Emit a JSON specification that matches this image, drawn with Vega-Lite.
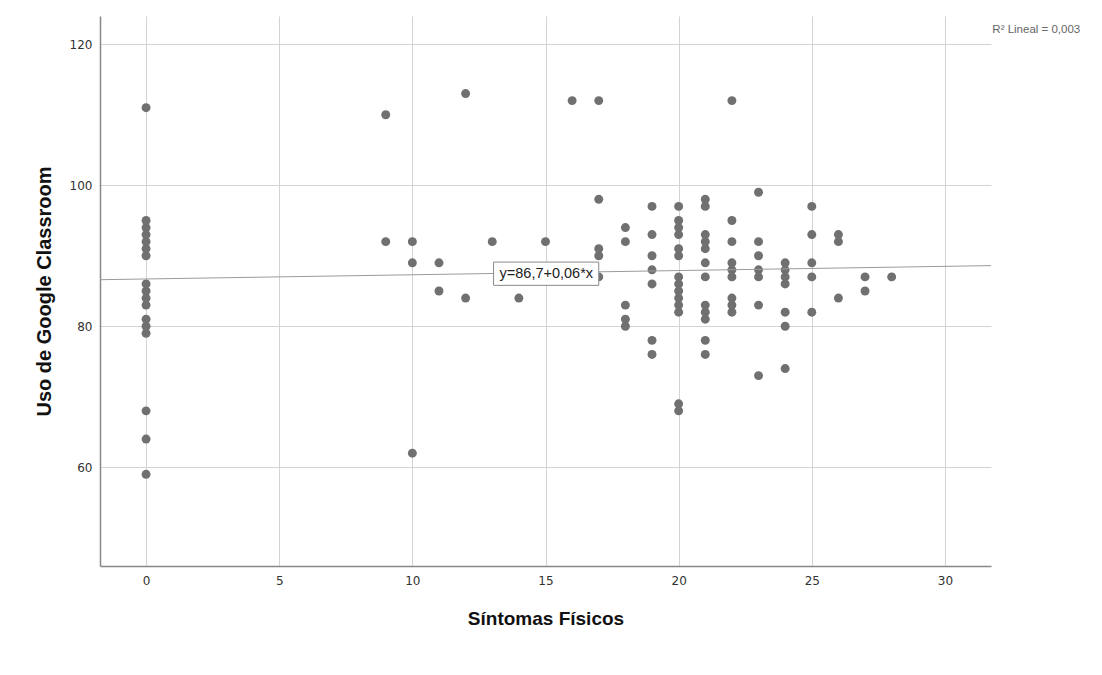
{
  "$schema": "https://vega.github.io/schema/vega-lite/v6.json",
  "autosize": {"type": "none"},
  "width": 891,
  "height": 550,
  "padding": {"left": 100, "top": 16, "right": 111, "bottom": 109},
  "background": "white",
  "config": {
    "view": {"stroke": null},
    "font": "Liberation Sans",
    "axis": {
      "domainColor": "#888888",
      "domainWidth": 1.5,
      "gridColor": "#d3d3d3",
      "gridWidth": 1,
      "ticks": false,
      "labelColor": "#333333",
      "labelFontSize": 12,
      "labelFont": "DejaVu Sans",
      "titleFont": "Liberation Sans",
      "titleFontWeight": "bold",
      "titleColor": "#111111"
    }
  },
  "datasets": {
    "points": [
      {"sintomas": 0, "uso": 111}, {"sintomas": 0, "uso": 95}, {"sintomas": 0, "uso": 94}, {"sintomas": 0, "uso": 93}, {"sintomas": 0, "uso": 92}, {"sintomas": 0, "uso": 91}, {"sintomas": 0, "uso": 90}, {"sintomas": 0, "uso": 86}, {"sintomas": 0, "uso": 85}, {"sintomas": 0, "uso": 84}, {"sintomas": 0, "uso": 83}, {"sintomas": 0, "uso": 81}, {"sintomas": 0, "uso": 80}, {"sintomas": 0, "uso": 79}, {"sintomas": 0, "uso": 68}, {"sintomas": 0, "uso": 64}, {"sintomas": 0, "uso": 59},
      {"sintomas": 9, "uso": 110}, {"sintomas": 9, "uso": 92},
      {"sintomas": 10, "uso": 92}, {"sintomas": 10, "uso": 89}, {"sintomas": 10, "uso": 62},
      {"sintomas": 11, "uso": 89}, {"sintomas": 11, "uso": 85},
      {"sintomas": 12, "uso": 113}, {"sintomas": 12, "uso": 84},
      {"sintomas": 13, "uso": 92},
      {"sintomas": 14, "uso": 84},
      {"sintomas": 15, "uso": 92},
      {"sintomas": 16, "uso": 112},
      {"sintomas": 17, "uso": 112}, {"sintomas": 17, "uso": 98}, {"sintomas": 17, "uso": 91}, {"sintomas": 17, "uso": 90}, {"sintomas": 17, "uso": 87},
      {"sintomas": 18, "uso": 94}, {"sintomas": 18, "uso": 92}, {"sintomas": 18, "uso": 83}, {"sintomas": 18, "uso": 81}, {"sintomas": 18, "uso": 80},
      {"sintomas": 19, "uso": 97}, {"sintomas": 19, "uso": 93}, {"sintomas": 19, "uso": 90}, {"sintomas": 19, "uso": 88}, {"sintomas": 19, "uso": 86}, {"sintomas": 19, "uso": 78}, {"sintomas": 19, "uso": 76},
      {"sintomas": 20, "uso": 97}, {"sintomas": 20, "uso": 95}, {"sintomas": 20, "uso": 94}, {"sintomas": 20, "uso": 93}, {"sintomas": 20, "uso": 91}, {"sintomas": 20, "uso": 90}, {"sintomas": 20, "uso": 87}, {"sintomas": 20, "uso": 86}, {"sintomas": 20, "uso": 85}, {"sintomas": 20, "uso": 84}, {"sintomas": 20, "uso": 83}, {"sintomas": 20, "uso": 82}, {"sintomas": 20, "uso": 69}, {"sintomas": 20, "uso": 68},
      {"sintomas": 21, "uso": 98}, {"sintomas": 21, "uso": 97}, {"sintomas": 21, "uso": 93}, {"sintomas": 21, "uso": 92}, {"sintomas": 21, "uso": 91}, {"sintomas": 21, "uso": 89}, {"sintomas": 21, "uso": 87}, {"sintomas": 21, "uso": 83}, {"sintomas": 21, "uso": 82}, {"sintomas": 21, "uso": 81}, {"sintomas": 21, "uso": 78}, {"sintomas": 21, "uso": 76},
      {"sintomas": 22, "uso": 112}, {"sintomas": 22, "uso": 95}, {"sintomas": 22, "uso": 92}, {"sintomas": 22, "uso": 89}, {"sintomas": 22, "uso": 88}, {"sintomas": 22, "uso": 87}, {"sintomas": 22, "uso": 84}, {"sintomas": 22, "uso": 83}, {"sintomas": 22, "uso": 82},
      {"sintomas": 23, "uso": 99}, {"sintomas": 23, "uso": 92}, {"sintomas": 23, "uso": 90}, {"sintomas": 23, "uso": 88}, {"sintomas": 23, "uso": 87}, {"sintomas": 23, "uso": 83}, {"sintomas": 23, "uso": 73},
      {"sintomas": 24, "uso": 89}, {"sintomas": 24, "uso": 88}, {"sintomas": 24, "uso": 87}, {"sintomas": 24, "uso": 86}, {"sintomas": 24, "uso": 82}, {"sintomas": 24, "uso": 80}, {"sintomas": 24, "uso": 74},
      {"sintomas": 25, "uso": 97}, {"sintomas": 25, "uso": 93}, {"sintomas": 25, "uso": 89}, {"sintomas": 25, "uso": 87}, {"sintomas": 25, "uso": 82},
      {"sintomas": 26, "uso": 93}, {"sintomas": 26, "uso": 92}, {"sintomas": 26, "uso": 84},
      {"sintomas": 27, "uso": 87}, {"sintomas": 27, "uso": 85},
      {"sintomas": 28, "uso": 87}
    ],
    "fit": [
      {"sintomas": -1.73, "uso": 86.6},
      {"sintomas": 31.73, "uso": 88.6}
    ],
    "eq": [
      {"x1": 13.05, "x2": 17.0, "y1": 85.8, "y2": 89.1, "xc": 15.03, "yc": 87.45, "label": "y=86,7+0,06*x"}
    ],
    "r2": [
      {"x": 31.78, "y": 122.0, "label": "R² Lineal = 0,003"}
    ]
  },
  "layer": [
    {
      "data": {"name": "points"},
      "mark": {"type": "point", "filled": true, "color": "#707070", "opacity": 1, "size": 80},
      "encoding": {
        "x": {
          "field": "sintomas", "type": "quantitative",
          "scale": {"domain": [-1.73, 31.73], "nice": false, "zero": false},
          "axis": {"values": [0, 5, 10, 15, 20, 25, 30], "title": "Síntomas Físicos", "labelPadding": 9, "titlePadding": 23, "titleFontSize": 19}
        },
        "y": {
          "field": "uso", "type": "quantitative",
          "scale": {"domain": [46, 124], "nice": false, "zero": false},
          "axis": {"values": [60, 80, 100, 120], "title": "Uso de Google Classroom", "labelPadding": 8, "titlePadding": 15, "titleFontSize": 20}
        }
      }
    },
    {
      "data": {"name": "fit"},
      "mark": {"type": "line", "color": "#9a9a9a", "strokeWidth": 1},
      "encoding": {
        "x": {"field": "sintomas", "type": "quantitative"},
        "y": {"field": "uso", "type": "quantitative"}
      }
    },
    {
      "data": {"name": "eq"},
      "mark": {"type": "rect", "fill": "white", "stroke": "#8a8a8a", "strokeWidth": 1},
      "encoding": {
        "x": {"field": "x1", "type": "quantitative"},
        "x2": {"field": "x2"},
        "y": {"field": "y1", "type": "quantitative"},
        "y2": {"field": "y2"}
      }
    },
    {
      "data": {"name": "eq"},
      "mark": {"type": "text", "fontSize": 14.5, "color": "#222222", "align": "center", "baseline": "middle", "font": "Liberation Sans"},
      "encoding": {
        "x": {"field": "xc", "type": "quantitative"},
        "y": {"field": "yc", "type": "quantitative"},
        "text": {"field": "label"}
      }
    },
    {
      "data": {"name": "r2"},
      "mark": {"type": "text", "fontSize": 11.5, "color": "#666666", "align": "left", "baseline": "middle", "font": "Liberation Sans"},
      "encoding": {
        "x": {"field": "x", "type": "quantitative"},
        "y": {"field": "y", "type": "quantitative"},
        "text": {"field": "label"}
      }
    }
  ]
}
